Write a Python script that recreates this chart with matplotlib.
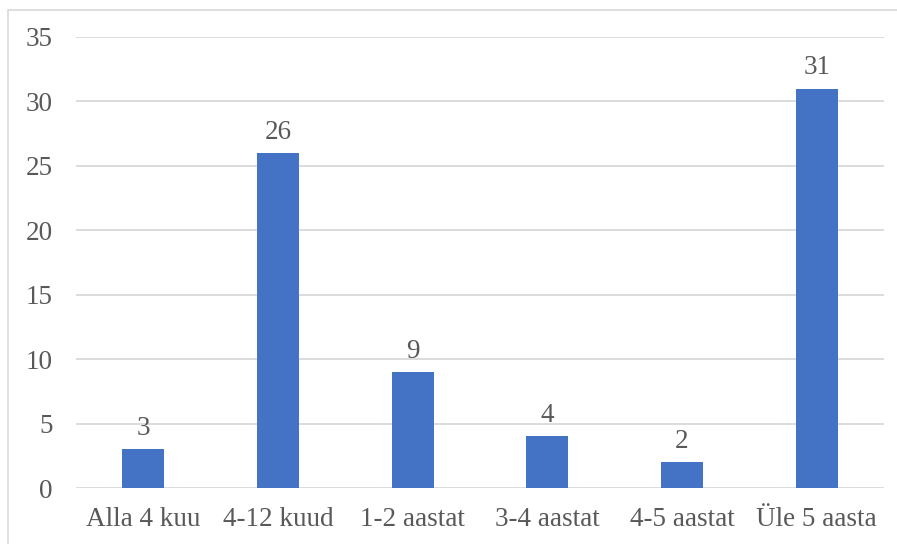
import numpy as np
import matplotlib.pyplot as plt
from matplotlib.patches import Rectangle

categories = ['Alla 4 kuu', '4-12 kuud', '1-2 aastat', '3-4 aastat', '4-5 aastat', 'Üle 5 aasta']
values = [3, 26, 9, 4, 2, 31]
yticks = [0, 5, 10, 15, 20, 25, 30, 35]

W, H = 897, 544
plt.rcParams['font.family'] = ['Liberation Serif', 'DejaVu Serif']
txt = '#595959'

fig = plt.figure(figsize=(W/100, H/100), dpi=100)

# chart frame, only the left and top edges fall inside the image
fig.patches.append(Rectangle((8/W, -0.1), 1.2, 1 - 10/H + 0.1, transform=fig.transFigure,
                             fill=False, edgecolor='#D9D9D9', lw=1.2))

ax = fig.add_axes([76/W, 1 - 488/H, 808/W, (488 - 37)/H])
x = np.arange(len(categories))
bars = ax.bar(x, values, width=0.31, color='#4472C4', zorder=3)
ax.set_xlim(-0.5, len(categories) - 0.5)
ax.set_ylim(0, 35)
ax.set_yticks(yticks)
ax.set_xticks(x)
ax.set_xticklabels(categories)
ax.grid(axis='y', color='#D9D9D9', lw=1.3, zorder=0)
for s in ax.spines.values():
    s.set_visible(False)
ax.tick_params(length=0, labelsize=19.5, colors=txt)
ax.tick_params(axis='y', pad=17)
ax.tick_params(axis='x', pad=14)

for xi, v in zip(x, values):
    ax.annotate(str(v), (xi, v), xytext=(0, 6), textcoords='offset points',
                ha='center', va='bottom', fontsize=19.5, color=txt)

fig.savefig('out.png', dpi=100)
